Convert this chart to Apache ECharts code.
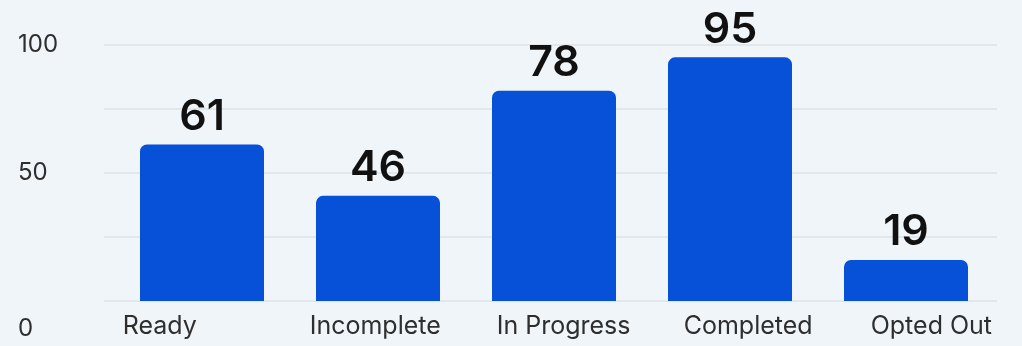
<!DOCTYPE html>
<html>
<head>
<meta charset="utf-8">
<script src="https://cdn.jsdelivr.net/npm/echarts@6/dist/echarts.min.js"></script>
<style>
html,body{margin:0;padding:0;background:#eff5f9;}
#chart{width:1022px;height:346px;}
</style>
</head>
<body>
<div id="chart"></div>
<script>
const categories = ['Ready', 'Incomplete', 'In Progress', 'Completed', 'Opted Out'];
const barValues = [61, 41, 82, 95, 16];
const labelValues = [61, 46, 78, 95, 19];
const yTickLabels = {0: '0', 50: '50', 100: '100'};

const chart = echarts.init(document.getElementById('chart'), null, {renderer: 'canvas'});
const TOP = 44.5, BOTTOM = 45;
chart.setOption({
  backgroundColor: '#eff5f9',
  animation: false,
  grid: [
    {left: 104, right: 25, top: TOP, bottom: BOTTOM},
    {left: 114, right: 28, top: TOP, bottom: BOTTOM},
    {left: 122.7, right: 151.3, top: TOP, bottom: BOTTOM}
  ],
  xAxis: [
    {gridIndex: 0, type: 'value', show: false},
    {gridIndex: 1, type: 'category', data: categories, show: false},
    {gridIndex: 2, type: 'category', data: categories, boundaryGap: false,
      axisLine: {show: false}, axisTick: {show: false},
      axisLabel: {interval: 0, align: 'left', margin: 13, color: '#2e2e2e',
        fontFamily: 'Inter', fontSize: 25}}
  ],
  yAxis: [
    {gridIndex: 0, type: 'value', min: 0, max: 100, interval: 25,
      axisLine: {show: false}, axisTick: {show: false},
      splitLine: {show: true, lineStyle: {color: '#dde2e6', width: 1.5}},
      axisLabel: {
        align: 'left', margin: 86, color: '#2e2e2e', fontFamily: 'Inter', fontSize: 24,
        formatter: function (v) {
          if (v === 0) return '{z|0}';
          return yTickLabels[v] !== undefined ? yTickLabels[v] : '';
        },
        rich: {z: {padding: [56, 0, 0, 0], color: '#2e2e2e', fontFamily: 'Inter', fontSize: 24}}
      }},
    {gridIndex: 1, type: 'value', min: 0, max: 100, show: false},
    {gridIndex: 2, type: 'value', min: 0, max: 100, show: false}
  ],
  series: [{
    type: 'bar',
    xAxisIndex: 1, yAxisIndex: 1,
    data: barValues,
    barWidth: 124,
    itemStyle: {color: '#0751d8', borderRadius: [7, 7, 0, 0]},
    label: {
      show: true, position: 'top', distance: 6,
      color: '#111', fontFamily: 'Inter', fontWeight: 600, fontSize: 43,
      formatter: function (p) { return String(labelValues[p.dataIndex]); }
    }
  }]
});
</script>
</body>
</html>
